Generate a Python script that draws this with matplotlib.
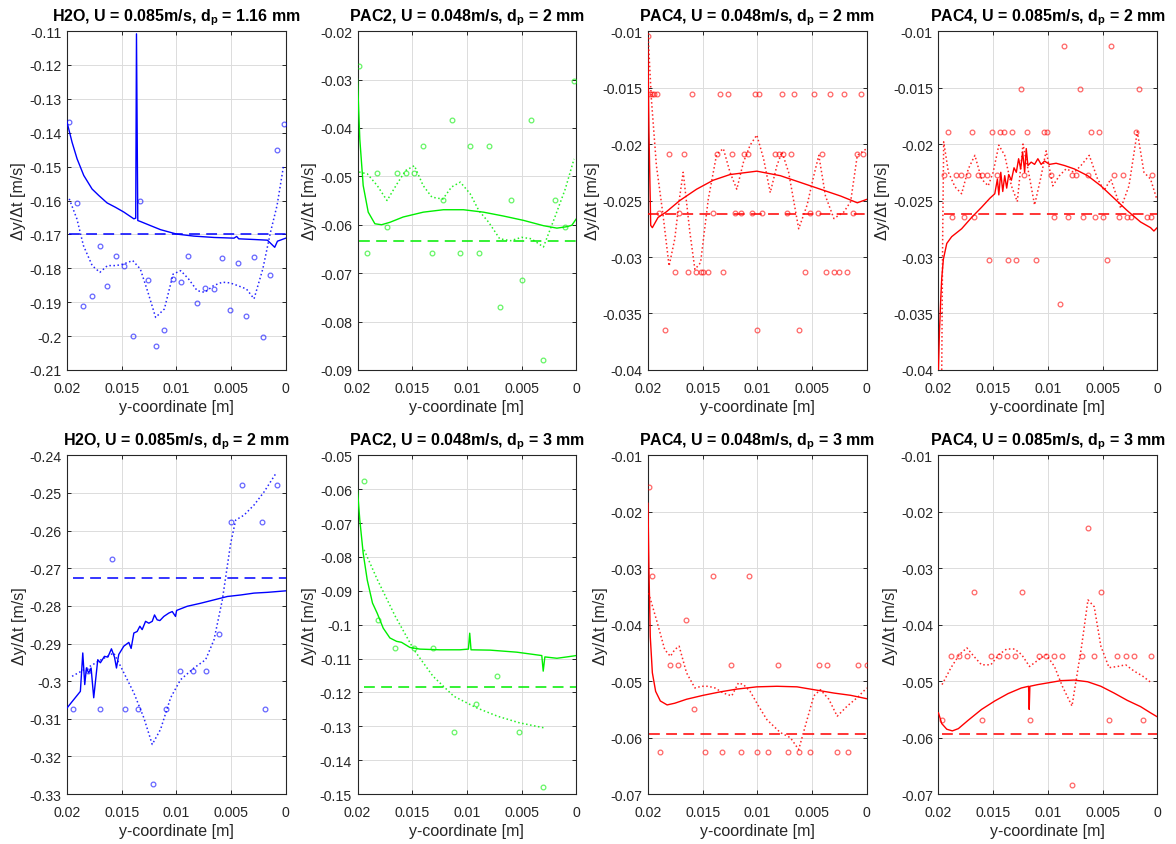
import matplotlib
matplotlib.use("Agg")
import matplotlib.pyplot as plt
from matplotlib.ticker import FuncFormatter, MultipleLocator

plt.rcParams['font.family'] = ['Liberation Sans', 'DejaVu Sans']
plt.rcParams['mathtext.fontset'] = 'custom'
plt.rcParams['mathtext.rm'] = 'Liberation Sans'
plt.rcParams['mathtext.bf'] = 'Liberation Sans:bold'
plt.rcParams['axes.unicode_minus'] = False

# ---------------- data ----------------
titles = [
    r'H2O, U = 0.085m/s, d$_\mathbf{p}$ = 1.16 mm',
    r'PAC2, U = 0.048m/s, d$_\mathbf{p}$ = 2 mm',
    r'PAC4, U = 0.048m/s, d$_\mathbf{p}$ = 2 mm',
    r'PAC4, U = 0.085m/s, d$_\mathbf{p}$ = 2 mm',
    r'H2O, U = 0.085m/s, d$_\mathbf{p}$ = 2 mm',
    r'PAC2, U = 0.048m/s, d$_\mathbf{p}$ = 3 mm',
    r'PAC4, U = 0.048m/s, d$_\mathbf{p}$ = 3 mm',
    r'PAC4, U = 0.085m/s, d$_\mathbf{p}$ = 3 mm',
]
colors = ['#0000ff', '#00ee00', '#ff0000', '#ff0000', '#0000ff', '#00ee00', '#ff0000', '#ff0000']
ylims = [(-0.21, -0.11), (-0.09, -0.02), (-0.04, -0.01), (-0.04, -0.01),
         (-0.33, -0.24), (-0.15, -0.05), (-0.07, -0.01), (-0.07, -0.01)]
ysteps = [0.01, 0.01, 0.005, 0.005, 0.01, 0.01, 0.01, 0.01]
x_ticks = [0.02, 0.015, 0.01, 0.005, 0.0]
mean_vals = [-0.170, -0.0633, -0.0262, -0.0262, -0.2727, -0.1183, -0.0594, -0.0593]

# Panel 1
pts_x1 = [0.0198, 0.0191, 0.0185, 0.0177, 0.0170, 0.0163, 0.0155, 0.0148, 0.0140, 0.0133, 0.0126, 0.0119, 0.0111, 0.0103,
          0.0096, 0.0089, 0.0081, 0.0074, 0.0066, 0.0058, 0.0051, 0.0044, 0.0036, 0.0029, 0.0021, 0.0014, 0.0008, 0.0002]
pts_y1 = [-0.1367, -0.1607, -0.1912, -0.1881, -0.1733, -0.1851, -0.1765, -0.1792, -0.2001, -0.1600, -0.1836, -0.2028, -0.1982,
          -0.1833, -0.1841, -0.1763, -0.1903, -0.1859, -0.1861, -0.1769, -0.1924, -0.1785, -0.1940, -0.1768, -0.2004, -0.1821,
          -0.1452, -0.1373]
dot_x1 = pts_x1
dot_y1 = [-0.1595, -0.1654, -0.1733, -0.1792, -0.1812, -0.1792, -0.1792, -0.1787, -0.1777, -0.1802, -0.1871, -0.1945, -0.1920,
          -0.1817, -0.1807, -0.1831, -0.1866, -0.1871, -0.1851, -0.1841, -0.1843, -0.1851, -0.1861, -0.1890, -0.1802, -0.1694,
          -0.1615, -0.1497]
sol_x1 = [0.0200, 0.01954, 0.01908, 0.01847, 0.01771, 0.01710, 0.01634, 0.01557, 0.01481, 0.01389, 0.01372, 0.01365, 0.01353,
          0.01328, 0.01237, 0.01145, 0.00998, 0.00840, 0.00656, 0.00473, 0.00449, 0.00430, 0.00290, 0.00168, 0.00101, 0.00076, 0.0]
sol_y1 = [-0.1369, -0.1428, -0.1477, -0.1526, -0.1566, -0.1585, -0.1607, -0.1620, -0.1634, -0.1654, -0.1652, -0.1108, -0.1659,
          -0.1662, -0.1674, -0.1686, -0.1699, -0.1705, -0.1709, -0.1711, -0.1706, -0.1713, -0.1715, -0.1717, -0.1738, -0.1720,
          -0.1711]

# Panel 2
pts_x2 = [0.01985, 0.0191, 0.0182, 0.0173, 0.0164, 0.0156, 0.0148, 0.0140, 0.0132, 0.0122, 0.0114, 0.0106, 0.0097, 0.0089,
          0.0080, 0.0070, 0.0060, 0.0050, 0.0041, 0.0030, 0.0019, 0.0010, 0.0002]
pts_y2 = [-0.0273, -0.0659, -0.0493, -0.0604, -0.0493, -0.0493, -0.0493, -0.0438, -0.0659, -0.0549, -0.0383, -0.0659, -0.0438,
          -0.0659, -0.0438, -0.0769, -0.0549, -0.0714, -0.0383, -0.0879, -0.0549, -0.0604, -0.0304]
dot_x2 = pts_x2
dot_y2 = [-0.0491, -0.0495, -0.0519, -0.0550, -0.0516, -0.0488, -0.0478, -0.0519, -0.0543, -0.0547, -0.0522, -0.0512, -0.0536,
          -0.0571, -0.0595, -0.0629, -0.0633, -0.0626, -0.0629, -0.0646, -0.0581, -0.0526, -0.0464]
sol_x2 = [0.02, 0.01979, 0.01948, 0.01902, 0.01841, 0.01780, 0.01704, 0.01582, 0.01398, 0.01215, 0.01032, 0.00849, 0.00666,
          0.00482, 0.00299, 0.00177, 0.00085, 0.00040, 0.0]
sol_y2 = [-0.0299, -0.0423, -0.0519, -0.0574, -0.0598, -0.0600, -0.0595, -0.0584, -0.0574, -0.0569, -0.0569, -0.0574, -0.0582,
          -0.0591, -0.0602, -0.0607, -0.0604, -0.0601, -0.0588]

# Panel 3
pts_x3 = [0.0200,
          0.01985, 0.01963, 0.01942, 0.0192, 0.01593, 0.01342, 0.01271, 0.01023, 0.00986, 0.00775, 0.00662, 0.00484, 0.00337,
          0.00208, 0.00055,
          0.01807, 0.01672, 0.01372, 0.01234, 0.01121, 0.01087, 0.00836, 0.00799, 0.00766, 0.00689, 0.00413, 0.00086, 0.00031,
          0.01899, 0.01715, 0.01409, 0.01204, 0.01152, 0.01051, 0.00959, 0.00729, 0.00515, 0.00447, 0.00123,
          0.01755, 0.01632, 0.01562, 0.01519, 0.01501, 0.01455, 0.01311, 0.0056, 0.00368, 0.003, 0.00254, 0.00178,
          0.01847, 0.0100, 0.00622]
pts_y3 = [-0.0104] + [-0.0156] * 15 + [-0.0209] * 13 + [-0.0261] * 11 + [-0.0313] * 12 + [-0.0365] * 3
dot_x3 = [0.0200, 0.01969, 0.01923, 0.01862, 0.01807, 0.01755, 0.01709, 0.01678, 0.01617, 0.01571, 0.01519, 0.01449, 0.01372,
          0.01311, 0.0125, 0.01188, 0.01127, 0.01066, 0.01005, 0.00943, 0.00882, 0.00821, 0.00775, 0.00714, 0.00622, 0.00545,
          0.00484, 0.00438, 0.00377, 0.003, 0.00208, 0.00147, 0.00086, 0.0]
dot_y3 = [-0.0102, -0.0160, -0.0219, -0.0263, -0.0308, -0.0284, -0.0246, -0.0225, -0.0278, -0.0311, -0.0305, -0.0249, -0.0209,
          -0.0204, -0.0225, -0.0240, -0.0216, -0.0201, -0.0192, -0.0213, -0.0243, -0.0219, -0.0207, -0.0225, -0.0275, -0.0254,
          -0.0228, -0.0210, -0.0246, -0.0266, -0.0260, -0.0251, -0.0210, -0.0204]
sol_x3 = [0.02, 0.01991, 0.01975, 0.0196, 0.01908, 0.01832, 0.01709, 0.01556, 0.01403, 0.0125, 0.01005, 0.0079, 0.00606,
          0.00423, 0.00239, 0.00086, 0.0]
sol_y3 = [-0.0116, -0.0189, -0.0272, -0.0274, -0.0265, -0.0260, -0.0250, -0.0240, -0.0232, -0.0227, -0.0224, -0.0228, -0.0234,
          -0.0240, -0.0246, -0.0252, -0.0249]

# Panel 4
pts_x4 = [0.00848, 0.00418,
          0.01248, 0.00706, 0.00167,
          0.01909, 0.01691, 0.01506, 0.01439, 0.0140, 0.01327, 0.01188, 0.01036, 0.01006, 0.00606, 0.0053, 0.00197,
          0.01945, 0.01842, 0.01794, 0.01727, 0.01636, 0.0160, 0.01552, 0.01467, 0.01218, 0.0097, 0.00776, 0.00739, 0.00636,
          0.00394, 0.00309, 0.00045,
          0.01873, 0.01767, 0.01673, 0.00939, 0.00818, 0.00676, 0.0057, 0.00491, 0.00348, 0.00279, 0.00242, 0.00097, 0.00055,
          0.01539, 0.01364, 0.01288, 0.01112, 0.00455,
          0.00885]
pts_y4 = [-0.0113] * 2 + [-0.0151] * 3 + [-0.0189] * 12 + [-0.0227] * 16 + [-0.0265] * 13 + [-0.0303] * 5 + [-0.0342]
dot_x4 = [0.0197, 0.01961, 0.01952, 0.01909, 0.01848, 0.01788, 0.01727, 0.01667, 0.01606, 0.01545, 0.0150, 0.01448, 0.01394,
          0.01333, 0.01279, 0.01227, 0.01176, 0.01121, 0.01067, 0.01015, 0.00955, 0.00894, 0.00833, 0.00758, 0.00697, 0.00621,
          0.00545, 0.00485, 0.00424, 0.00333, 0.00258, 0.00182, 0.00121, 0.00061, 0.00006]
dot_y4 = [-0.0400, -0.0278, -0.0198, -0.0225, -0.0238, -0.0244, -0.0222, -0.0210, -0.0231, -0.0237, -0.0225, -0.0201, -0.0210,
          -0.0237, -0.0251, -0.0200, -0.0225, -0.0254, -0.0231, -0.0206, -0.0237, -0.0228, -0.0222, -0.0225, -0.0219, -0.0210,
          -0.0231, -0.0241, -0.0231, -0.0257, -0.0237, -0.0189, -0.0225, -0.0231, -0.0248]
sol_x4 = [0.02, 0.01991, 0.01979, 0.0197, 0.01955, 0.01924, 0.01879, 0.01788, 0.01697, 0.01606, 0.0153, 0.01485, 0.01461,
          0.01448, 0.0143, 0.01412, 0.01394, 0.01376, 0.01358, 0.01333, 0.01309, 0.01288, 0.01267, 0.01248, 0.0123, 0.01212,
          0.01197, 0.01182, 0.01152, 0.01121, 0.01091, 0.01061, 0.0103, 0.00985, 0.00924, 0.00848, 0.00758, 0.00636, 0.00515,
          0.00394, 0.00273, 0.00152, 0.00061, 0.0003, 0.0]
sol_y4 = [-0.0400, -0.0367, -0.0337, -0.0319, -0.0302, -0.0288, -0.0282, -0.0275, -0.0265, -0.0256, -0.0248, -0.0244, -0.0231,
          -0.0245, -0.0225, -0.0242, -0.0228, -0.0239, -0.0227, -0.0232, -0.0221, -0.0225, -0.0213, -0.0222, -0.0207, -0.0225,
          -0.0204, -0.0219, -0.0216, -0.0218, -0.0213, -0.0218, -0.0215, -0.0218, -0.0217, -0.0219, -0.0222, -0.0228, -0.0237,
          -0.0248, -0.0259, -0.0269, -0.0274, -0.0277, -0.0274]

# Panel 5
pts_x5 = [0.01945, 0.0181, 0.0170, 0.01585, 0.01472, 0.0135, 0.01215, 0.01093, 0.00971, 0.00852, 0.00733, 0.00614, 0.00498,
          0.0040, 0.00214, 0.00189, 0.00076]
pts_y5 = [-0.3073, -0.2974, -0.3073, -0.2676, -0.3073, -0.3073, -0.3272, -0.3073, -0.2974, -0.2974, -0.2974, -0.2875, -0.2576,
          -0.2478, -0.2576, -0.3073, -0.2478]
dot_x5 = [0.01954, 0.01817, 0.01695, 0.01573, 0.01511, 0.01389, 0.01298, 0.01221, 0.01145, 0.01053, 0.00962, 0.0084, 0.00733,
          0.00656, 0.0058, 0.00504, 0.00458, 0.00382, 0.0029, 0.00198, 0.00092]
dot_y5 = [-0.2987, -0.2965, -0.2944, -0.2925, -0.2960, -0.3031, -0.3097, -0.3168, -0.3128, -0.3044, -0.2996, -0.2965, -0.2943,
          -0.2890, -0.2784, -0.2634, -0.2572, -0.2559, -0.2532, -0.2497, -0.2449]
sol_x5 = [0.02, 0.01878, 0.01856, 0.01838, 0.01823, 0.01802, 0.0178, 0.01756, 0.01719, 0.01695, 0.01658, 0.01627, 0.01594,
          0.01566, 0.01548, 0.01527, 0.01481, 0.01435, 0.01414, 0.01389, 0.01359, 0.01334, 0.01313, 0.01282, 0.01252, 0.01221,
          0.0120, 0.01176, 0.01151, 0.01115, 0.01069, 0.01038, 0.01008, 0.00998, 0.00901, 0.00779, 0.00656, 0.00534, 0.00412,
          0.0029, 0.00168, 0.0]
sol_y5 = [-0.3071, -0.3027, -0.2925, -0.3009, -0.2965, -0.2978, -0.2965, -0.3044, -0.2943, -0.2951, -0.2934, -0.2936, -0.2914,
          -0.2936, -0.2965, -0.2929, -0.2907, -0.2897, -0.2913, -0.2872, -0.2868, -0.2854, -0.2863, -0.2841, -0.2846, -0.2841,
          -0.2824, -0.2837, -0.2839, -0.2828, -0.2819, -0.2815, -0.2828, -0.2812, -0.2801, -0.2793, -0.2784, -0.2775, -0.2771,
          -0.2766, -0.2764, -0.2760]

# Panel 6
pts_x6 = [0.0194, 0.01817, 0.01655, 0.01484, 0.0131, 0.0112, 0.00913, 0.0072, 0.00525, 0.0030]
pts_y6 = [-0.0576, -0.0987, -0.1070, -0.1070, -0.1070, -0.1317, -0.1233, -0.1152, -0.1317, -0.1480]
dot_x6 = pts_x6
dot_y6 = [-0.0779, -0.0868, -0.0975, -0.1074, -0.1152, -0.1211, -0.1245, -0.1270, -0.1289, -0.1304]
sol_x6 = [0.02, 0.01979, 0.01948, 0.01911, 0.01863, 0.0182, 0.01765, 0.01704, 0.01643, 0.01597, 0.01521, 0.01429, 0.01246,
          0.01063, 0.00986, 0.00974, 0.00962, 0.00788, 0.00544, 0.00315, 0.00302, 0.00287, 0.00177, 0.00085, 0.0]
sol_y6 = [-0.0603, -0.0691, -0.0789, -0.0868, -0.0936, -0.0966, -0.1010, -0.1039, -0.1049, -0.1052, -0.1067, -0.1072, -0.1074,
          -0.1074, -0.1072, -0.1025, -0.1074, -0.1075, -0.1081, -0.1091, -0.1137, -0.1095, -0.1099, -0.1095, -0.1091]

# Panel 7
pts_x7 = [0.01994, 0.0196, 0.01887, 0.01801, 0.01721, 0.01648, 0.01577, 0.01479, 0.01403, 0.01326, 0.0124, 0.01152, 0.01075,
          0.01002, 0.0090, 0.00812, 0.00723, 0.00622, 0.00521, 0.00438, 0.00361, 0.0027, 0.00171, 0.0008, 0.0000]
pts_y7 = [-0.0156, -0.0314, -0.0626, -0.0471, -0.0471, -0.0391, -0.0549, -0.0626, -0.0314, -0.0626, -0.0471, -0.0626, -0.0314,
          -0.0626, -0.0626, -0.0471, -0.0626, -0.0626, -0.0626, -0.0471, -0.0471, -0.0626, -0.0626, -0.0471, -0.0471]
dot_x7 = [0.01994, 0.01923, 0.01847, 0.01795, 0.01755, 0.01715, 0.01648, 0.01571, 0.0151, 0.01449, 0.01387, 0.01311, 0.01234,
          0.01173, 0.01127, 0.01066, 0.00989, 0.00913, 0.0079, 0.00698, 0.00622, 0.00545, 0.00484, 0.00423, 0.00346, 0.0027,
          0.00178, 0.00086, 0.0]
dot_y7 = [-0.0344, -0.0391, -0.0444, -0.0456, -0.0444, -0.0438, -0.0485, -0.0512, -0.0509, -0.0509, -0.0512, -0.0521, -0.0526,
          -0.0503, -0.0506, -0.0518, -0.0544, -0.0568, -0.0591, -0.0600, -0.0621, -0.0568, -0.0526, -0.0515, -0.0532, -0.0562,
          -0.0544, -0.0529, -0.0512]
sol_x7 = [0.02, 0.01991, 0.01979, 0.0196, 0.0193, 0.01887, 0.01825, 0.01755, 0.01648, 0.01495, 0.01342, 0.01188, 0.01005,
          0.00821, 0.00637, 0.00484, 0.003, 0.00147, 0.0]
sol_y7 = [-0.0185, -0.0303, -0.0421, -0.0485, -0.0518, -0.0535, -0.0542, -0.0539, -0.0532, -0.0525, -0.0519, -0.0514, -0.0510,
          -0.0509, -0.0510, -0.0515, -0.0521, -0.0525, -0.0531]

# Panel 8
pts_x8 = [0.01967, 0.01885, 0.01809, 0.0174, 0.01676, 0.01606, 0.01521, 0.01448, 0.01376, 0.01303, 0.01239, 0.01167, 0.01085,
          0.01015, 0.00939, 0.00867, 0.00779, 0.00691, 0.00633, 0.00576, 0.00515, 0.0044, 0.00364, 0.00288, 0.00212, 0.00133,
          0.00052]
pts_y8 = [-0.0569, -0.0456, -0.0456, -0.0456, -0.0342, -0.0569, -0.0456, -0.0456, -0.0456, -0.0456, -0.0342, -0.0569, -0.0456,
          -0.0456, -0.0456, -0.0456, -0.0684, -0.0456, -0.0228, -0.0456, -0.0342, -0.0569, -0.0456, -0.0456, -0.0456, -0.0569,
          -0.0456]
dot_x8 = pts_x8
dot_y8 = [-0.0506, -0.0476, -0.0453, -0.0441, -0.0456, -0.0471, -0.0471, -0.0453, -0.0443, -0.0443, -0.0453, -0.0474, -0.0462,
          -0.0453, -0.0474, -0.0509, -0.0544, -0.0438, -0.0356, -0.0368, -0.0438, -0.0476, -0.0474, -0.0471, -0.0482, -0.0491,
          -0.0503]
sol_x8 = [0.02, 0.0197, 0.01924, 0.01873, 0.01818, 0.01727, 0.01606, 0.01485, 0.01364, 0.01242, 0.01176, 0.0117, 0.01164,
          0.01091, 0.0100, 0.00879, 0.00758, 0.00636, 0.00515, 0.00394, 0.00273, 0.00152, 0.00061, 0.0]
sol_y8 = [-0.0556, -0.0575, -0.0585, -0.0588, -0.0584, -0.0569, -0.0550, -0.0535, -0.0522, -0.0512, -0.0509, -0.0550, -0.0509,
          -0.0506, -0.0503, -0.0499, -0.0498, -0.0501, -0.0509, -0.0521, -0.0534, -0.0545, -0.0556, -0.0563]

panels = [
    (pts_x1, pts_y1, dot_x1, dot_y1, sol_x1, sol_y1),
    (pts_x2, pts_y2, dot_x2, dot_y2, sol_x2, sol_y2),
    (pts_x3, pts_y3, dot_x3, dot_y3, sol_x3, sol_y3),
    (pts_x4, pts_y4, dot_x4, dot_y4, sol_x4, sol_y4),
    (pts_x5, pts_y5, dot_x5, dot_y5, sol_x5, sol_y5),
    (pts_x6, pts_y6, dot_x6, dot_y6, sol_x6, sol_y6),
    (pts_x7, pts_y7, dot_x7, dot_y7, sol_x7, sol_y7),
    (pts_x8, pts_y8, dot_x8, dot_y8, sol_x8, sol_y8),
]

# ---------------- layout ----------------
fig = plt.figure(figsize=(11.76, 8.45), dpi=100)
lefts = [0.057, 0.304, 0.551, 0.798]
bottoms = [0.561, 0.059]
width, height = 0.186, 0.401

def fmt(v, pos):
    s = f'{round(v, 6):g}'
    return '0' if s in ('-0', '0') else s

axis_col = '#262626'
for i, (px, py, dx, dy, sx, sy) in enumerate(panels):
    r, c = divmod(i, 4)
    ax = fig.add_axes([lefts[c], bottoms[r], width, height])
    col = colors[i]
    ax.plot(px, py, linestyle='none', marker='o', markersize=3.4, markerfacecolor='none',
            markeredgecolor=col, markeredgewidth=0.9, alpha=0.6, zorder=3)
    ax.plot(dx, dy, linestyle=':', color=col, linewidth=1.1, alpha=0.85, zorder=3)
    ax.plot(sx, sy, linestyle='-', color=col, linewidth=1.0, zorder=4)
    ax.plot([max(px), min(sx)], [mean_vals[i], mean_vals[i]], color=col, linewidth=1.3,
            dashes=(6, 3.5), alpha=0.85, zorder=3)
    ax.set_xlim(0.02, 0.0)
    ax.set_ylim(*ylims[i])
    ax.set_xticks(x_ticks)
    ax.yaxis.set_major_locator(MultipleLocator(ysteps[i]))
    ax.xaxis.set_major_formatter(FuncFormatter(fmt))
    ax.yaxis.set_major_formatter(FuncFormatter(fmt))
    ax.grid(True, color='#dcdcdc', linewidth=0.7)
    ax.set_axisbelow(True)
    ax.tick_params(direction='in', length=3, width=0.7, colors=axis_col, labelsize=10.2,
                   top=True, right=True, labelcolor=axis_col)
    ax.tick_params(axis='x', pad=8)
    ax.tick_params(axis='y', pad=4)
    for sp in ax.spines.values():
        sp.set_color(axis_col)
        sp.set_linewidth(0.8)
    ax.set_title(titles[i], fontsize=11.5, fontweight='bold', color='black', pad=8)
    ax.set_xlabel('y-coordinate [m]', fontsize=11.5, color=axis_col, labelpad=3)
    ax.set_ylabel('Δy/Δt [m/s]', fontsize=11.5, color=axis_col, labelpad=2)

fig.savefig('out.png', dpi=100)
